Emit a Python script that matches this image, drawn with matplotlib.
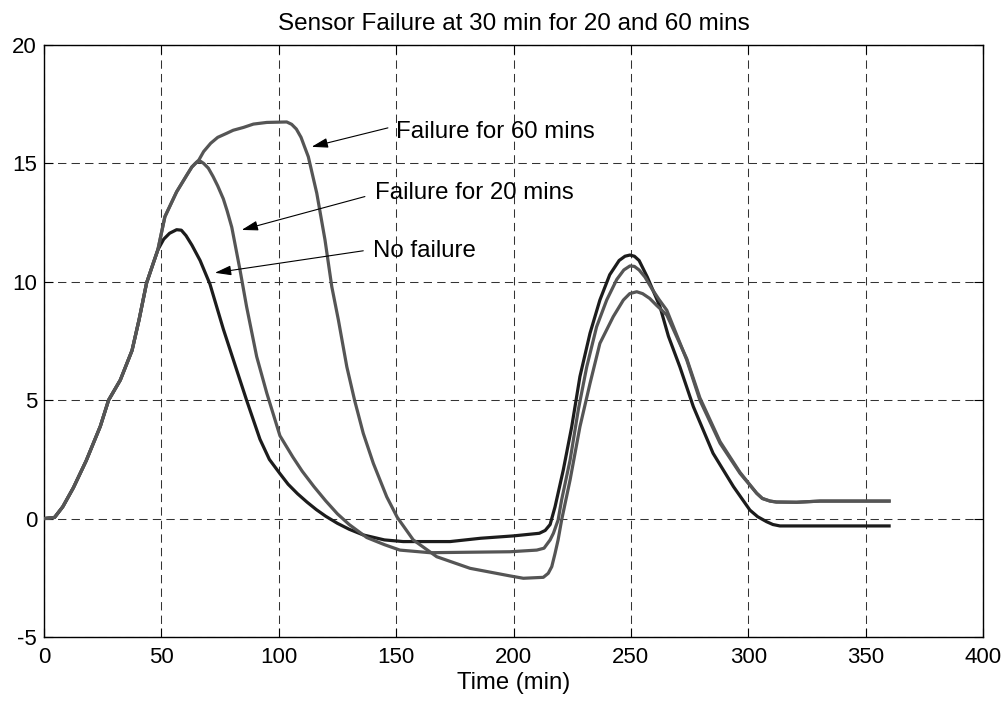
import matplotlib
matplotlib.use("Agg")
import matplotlib.pyplot as plt

plt.rcParams["font.family"] = ["Liberation Sans", "DejaVu Sans"]
plt.rcParams["axes.unicode_minus"] = False

# Common glucose rise before the runs diverge (time in min)
rise_t = [0, 4.5, 8, 12.5, 18, 24, 27.5, 32.5, 37.5, 40.5, 43.7, 46.6, 48.5]
rise_y = [0, 0.05, 0.5, 1.3, 2.45, 3.9, 5.0, 5.85, 7.1, 8.4, 9.95, 10.8, 11.35]

# No failure
nf_t = [51, 53.5, 56.5, 58.5, 60.5, 63, 66.5, 70.7, 76.4, 82, 86.3, 92, 96, 100.5,
        104, 108, 112, 116, 120, 125, 130, 136, 145, 153, 173, 186, 200, 211, 213.5,
        215.6, 217.7, 221.2, 224.8, 228.3, 232.6, 236.8, 241, 245, 247.5, 249.6, 251.5,
        253.5, 257, 262.4, 266, 270.9, 276.6, 285, 293.7, 300.7, 304, 307.8, 310.5,
        313.5, 360]
nf_y = [11.8, 12.05, 12.2, 12.18, 11.95, 11.55, 10.9, 9.9, 8.0, 6.3, 5.0, 3.35, 2.5, 1.9,
        1.45, 1.05, 0.7, 0.38, 0.1, -0.2, -0.45, -0.69, -0.9, -0.97, -0.97, -0.83, -0.73, -0.62, -0.5,
        -0.25, 0.5, 2.05, 3.88, 6.0, 7.83, 9.23, 10.3, 10.9, 11.08, 11.13, 11.08,
        10.9, 10.2, 8.95, 7.7, 6.4, 4.73, 2.76, 1.35, 0.36, 0.08, -0.13, -0.25,
        -0.31, -0.31]

# Sensor failure for 20 min
f20_t = [51.5, 56.5, 60.8, 63, 65, 66.5, 68, 70, 72, 74, 76.4, 78, 80, 83.5, 86.3,
         90.6, 94.9, 100.5, 106, 110, 115, 120, 125, 130, 137.5, 145, 151.6, 164.4,
         198.5, 209.9, 213, 215.6, 217, 219, 220.5, 224.1, 227.6, 231.2, 235.4, 239.7,
         244, 247, 249.6, 251.5, 253.5, 256, 259, 262, 265.3, 273.8, 279.4, 288, 296.5,
         303.6, 306, 309.3, 312, 320.6, 330.6, 360]
f20_y = [12.75, 13.8, 14.5, 14.85, 15.05, 15.1, 15.0, 14.8, 14.45, 14.05, 13.5, 13.0, 12.3, 10.5, 8.95,
         6.84, 5.3, 3.5, 2.6, 2.0, 1.35, 0.75, 0.2, -0.25, -0.8, -1.1, -1.33, -1.44,
         -1.4, -1.33, -1.25, -0.9, -0.62, -0.06, 0.79, 2.47, 4.59, 6.41, 8.1, 9.23,
         10.1, 10.5, 10.67, 10.65, 10.5, 10.2, 9.7, 9.25, 8.8, 6.7, 5.0, 3.18, 1.91,
         1.07, 0.85, 0.74, 0.7, 0.69, 0.74, 0.74]

# Sensor failure for 60 min
f60_t = [51.5, 56.5, 60.8, 63, 66, 68, 71, 74, 77.8, 80.6, 85, 89.2, 94.9, 103.4,
         105.5, 107.5, 109.5, 111, 112.6, 116.2, 119.7, 122.6, 125.4, 129, 132.3, 136,
         140.3, 146, 150.5, 157.3, 167.3, 181.5, 198.5, 204.2, 212.7, 214.8, 216.3,
         217.7, 219, 220.5, 224.1, 228.3, 232.6, 236.8, 242.5, 246.8, 249.5, 252.5,
         255, 258, 261, 265.3, 273.8, 279.4, 288, 296.5, 303.6, 306, 309.3, 312, 320.6,
         330.6, 360]
f60_y = [12.75, 13.8, 14.5, 14.85, 15.15, 15.5, 15.85, 16.1, 16.27, 16.4, 16.52, 16.66, 16.73, 16.75,
         16.65, 16.45, 16.1, 15.7, 15.28, 13.74, 11.77, 9.79, 8.39, 6.41, 5.0, 3.6,
         2.33, 0.92, 0.05, -0.9, -1.61, -2.1, -2.42, -2.52, -2.48, -2.31, -2.03,
         -1.47, -0.9, -0.06, 1.63, 3.88, 5.71, 7.4, 8.53, 9.23, 9.5, 9.58,
         9.5, 9.3, 9.0, 8.6, 6.75, 5.1, 3.25, 1.95, 1.07, 0.85, 0.74, 0.7, 0.69,
         0.74, 0.74]

# Annotation labels: text anchor, arrow tail, arrow tip (data coords)
labels = ["Failure for 60 mins", "Failure for 20 mins", "No failure"]
label_xy = [(150.0, 16.33), (141.0, 13.77), (140.0, 11.30)]
arrow_tail = [(146.5, 16.5), (136.7, 13.6), (136.0, 11.31)]
arrow_tip = [(114.0, 15.7), (84.2, 12.19), (72.8, 10.38)]

x_ticks = [0, 50, 100, 150, 200, 250, 300, 350, 400]
y_ticks = [-5, 0, 5, 10, 15, 20]

fig = plt.figure(figsize=(10.08, 7.04), dpi=100)
ax = fig.add_axes([44 / 1008, 1 - 637 / 704, 939 / 1008, 592 / 704])

lw = 2.3
ax.plot(rise_t + nf_t, rise_y + nf_y, color="#1c1c1c", lw=lw, zorder=3)
ax.plot(rise_t + f20_t, rise_y + f20_y, color="#555555", lw=lw, zorder=4)
ax.plot(rise_t + f60_t, rise_y + f60_y, color="#555555", lw=lw, zorder=4)

ax.set_xlim(0, 400)
ax.set_ylim(-5, 20)
ax.set_xticks(x_ticks)
ax.set_yticks(y_ticks)
ax.grid(True, color="#333333", lw=0.75, linestyle=(0, (8, 5)))
ax.tick_params(direction="in", length=6.5, width=0.8, top=True, right=True,
               labelsize=16, colors="black")
ax.tick_params(axis="x", pad=7)
ax.tick_params(axis="y", pad=5)
for sp in ax.spines.values():
    sp.set_linewidth(1.0)
    sp.set_color("black")

ax.set_xlabel("Time (min)", fontsize=17.2, labelpad=3)
ax.set_title("Sensor Failure at 30 min for 20 and 60 mins", fontsize=17.5, pad=11)

for txt, pos, tail, tip in zip(labels, label_xy, arrow_tail, arrow_tip):
    ax.text(pos[0], pos[1], txt, fontsize=17.3, ha="left", va="center", zorder=6)
    ax.annotate("", xy=tip, xytext=tail,
                arrowprops=dict(arrowstyle="-|>,head_length=0.6,head_width=0.18",
                                color="black", lw=0.8, shrinkA=0, shrinkB=0,
                                mutation_scale=16.5),
                zorder=6)

fig.savefig("out.png", dpi=100)
